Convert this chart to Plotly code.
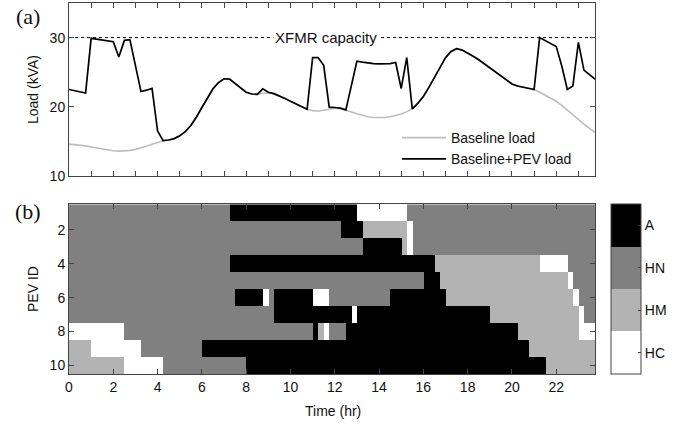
import numpy as np
import plotly.graph_objects as go

# ---------------- data ----------------
time_hr = np.arange(0, 24, 0.25)  # 15-min time grid, 0 .. 23.75 h

baseline_kva = [
    14.6, 14.55, 14.45, 14.35, 14.2, 14.05, 13.9, 13.75,
    13.65, 13.6, 13.6, 13.7, 13.85, 14.05, 14.3, 14.6,
    14.9, 15.1, 15.2, 15.4, 15.8, 16.4, 17.3, 18.5,
    19.9, 21.3, 22.6, 23.5, 24.05, 24.0, 23.4, 22.7,
    22.1, 21.85, 21.8, 21.95, 22.0, 21.9, 21.6, 21.2,
    20.8, 20.4, 20.0, 19.65, 19.45, 19.4, 19.5, 19.7,
    19.8, 19.75, 19.55, 19.25, 19.0, 18.75, 18.55, 18.45,
    18.4, 18.45, 18.55, 18.7, 18.95, 19.3, 19.7, 20.5,
    21.5, 22.8, 24.2, 25.8, 27.1, 28.0, 28.4, 28.2,
    27.8, 27.3, 26.8, 26.2, 25.7, 25.1, 24.5, 23.9,
    23.3, 23.0, 22.8, 22.65, 22.5, 22.1, 21.7, 21.3,
    20.8, 20.2, 19.5, 18.8, 18.1, 17.5, 16.9, 16.3,
]

pev_load_kva = [
    22.5, 22.35, 22.2, 22.0, 29.9, 29.8, 29.65, 29.5,
    29.4, 27.2, 29.6, 29.7, 26.0, 22.2, 22.4, 22.65,
    16.5, 15.1, 15.2, 15.4, 15.8, 16.4, 17.3, 18.5,
    19.9, 21.3, 22.6, 23.5, 24.05, 24.0, 23.4, 22.7,
    22.1, 21.85, 21.8, 22.6, 22.1, 21.9, 21.6, 21.2,
    20.8, 20.4, 20.0, 19.65, 27.1, 27.1, 26.0, 19.95,
    19.9, 19.8, 19.55, 22.9, 26.6, 26.45, 26.3, 26.25,
    26.2, 26.2, 26.25, 26.4, 22.65, 27.1, 19.7, 20.5,
    21.5, 22.8, 24.2, 25.8, 27.1, 28.0, 28.4, 28.2,
    27.8, 27.3, 26.8, 26.2, 25.7, 25.1, 24.5, 23.9,
    23.3, 23.0, 22.8, 22.65, 22.5, 30.0, 29.6, 29.2,
    28.7, 25.9, 22.5, 23.0, 29.3, 25.3, 24.6, 24.0,
]

xfmr_capacity_kva = 30

state_names = ["A", "HN", "HM", "HC"]
state_codes = {"HC": 1, "HM": 2, "HN": 3, "A": 4}

pev_ids = list(range(1, 11))
# per-PEV state changes: (start hour, state)
pev_states = [
    [(0, "HN"), (7.25, "A"), (13.0, "HC"), (15.25, "HN")],
    [(0, "HN"), (12.25, "A"), (13.25, "HM"), (15.25, "HC"), (15.5, "HN")],
    [(0, "HN"), (13.25, "A"), (15.0, "HM"), (15.25, "HC"), (15.5, "HN")],
    [(0, "HN"), (7.25, "A"), (16.5, "HM"), (21.25, "HC"), (22.5, "HN")],
    [(0, "HN"), (16.0, "A"), (16.75, "HM"), (22.5, "HC"), (22.75, "HN")],
    [(0, "HN"), (7.5, "A"), (8.75, "HC"), (9.0, "HN"), (9.25, "A"), (11.0, "HC"),
     (11.75, "HN"), (14.5, "A"), (17.0, "HM"), (22.75, "HC"), (23.0, "HN")],
    [(0, "HN"), (9.25, "A"), (12.75, "HC"), (13.0, "A"), (19.0, "HM"), (23.0, "HC"),
     (23.25, "HN")],
    [(0, "HC"), (2.5, "HN"), (11.0, "A"), (11.25, "HM"), (11.5, "HC"), (11.75, "HN"),
     (12.5, "A"), (20.25, "HM"), (23.0, "HC")],
    [(0, "HM"), (1.0, "HC"), (3.25, "HN"), (6.0, "A"), (20.75, "HM")],
    [(0, "HM"), (2.5, "HC"), (4.25, "HN"), (8.0, "A"), (21.5, "HM")],
]

x_ticks_b = list(range(0, 24, 2))
y_ticks_a = [10, 20, 30]
y_ticks_b = [2, 4, 6, 8, 10]

# ---------------- build state matrix ----------------
z = []
for segs in pev_states:
    row = []
    for t in time_hr:
        code = None
        for start, st in segs:
            if t >= start - 1e-9:
                code = state_codes[st]
        row.append(code)
    z.append(row)
cell_centers = time_hr + 0.125

# ---------------- figure ----------------
W, H = 686, 424
ml, mr, mt, mb = 69, 91, 3, 50
ph = H - mt - mb
pw = W - ml - mr

def py(p):  # pixel y -> paper
    return (H - mb - p) / ph

def px(p):  # pixel x -> paper
    return (p - ml) / pw

FONT = "Liberation Sans"
AX = "#444444"

fig = go.Figure()
fig.add_trace(go.Scatter(x=time_hr, y=baseline_kva, mode="lines", name="Baseline load",
                         line=dict(color="#bdbdbd", width=1.6), xaxis="x", yaxis="y"))
fig.add_trace(go.Scatter(x=time_hr, y=pev_load_kva, mode="lines", name="Baseline+PEV load",
                         line=dict(color="black", width=1.7), xaxis="x", yaxis="y"))

cs = [[0, "#ffffff"], [0.25, "#ffffff"], [0.25, "#b3b3b3"], [0.5, "#b3b3b3"],
      [0.5, "#808080"], [0.75, "#808080"], [0.75, "#000000"], [1, "#000000"]]
fig.add_trace(go.Heatmap(
    z=z, x=cell_centers, y=pev_ids, xaxis="x2", yaxis="y2",
    colorscale=cs, zmin=0.5, zmax=4.5, showscale=True, hoverinfo="skip",
    colorbar=dict(
        x=px(610.7), xanchor="left", y=0, yanchor="bottom",
        len=(374 - 204.3) / ph, lenmode="fraction",
        thickness=30, thicknessmode="pixels", xpad=0, ypad=0,
        outlinewidth=1, outlinecolor=AX,
        tickvals=[state_codes[s] for s in state_names], ticktext=state_names,
        ticks="inside", ticklen=3, tickcolor=AX,
        tickfont=dict(family=FONT, size=14, color="#111"),
    ),
))

common = dict(showgrid=False, zeroline=False, showline=True, linecolor=AX, linewidth=1,
              ticks="inside", ticklen=5, tickcolor=AX, mirror="ticks",
              tickfont=dict(family=FONT, size=14, color="#111"))

fig.update_layout(
    width=W, height=H,
    margin=dict(l=ml, r=mr, t=mt, b=mb),
    paper_bgcolor="white", plot_bgcolor="white",
    font=dict(family=FONT, size=14, color="#111"),
    xaxis=dict(domain=[0, 1], anchor="y", range=[0, 23.75], tick0=0, dtick=1,
               showticklabels=False, **common),
    yaxis=dict(domain=[py(176), 1], anchor="x", range=[10, 35], tickvals=y_ticks_a, **common),
    xaxis2=dict(domain=[0, 1], anchor="y2", range=[0, 23.75], tickvals=x_ticks_b, **common),
    yaxis2=dict(domain=[0, py(204.3)], anchor="x2", range=[10.5, 0.5], tickvals=y_ticks_b, **common),
    legend=dict(x=px(397), y=py(122), xanchor="left", yanchor="top",
                bgcolor="rgba(0,0,0,0)", itemwidth=44,
                font=dict(family=FONT, size=14, color="#111"), tracegroupgap=0),
    showlegend=True,
)

fig.add_shape(type="line", xref="x", yref="y", x0=0, x1=23.75,
              y0=xfmr_capacity_kva, y1=xfmr_capacity_kva,
              line=dict(color="black", width=1, dash="dot"), layer="below")

ann = [
    dict(text="XFMR capacity", x=11.62, y=xfmr_capacity_kva, xref="x", yref="y",
         bgcolor="white", borderpad=1, font=dict(size=15)),
    dict(text="(a)", x=px(28), y=py(17), xref="paper", yref="paper",
         font=dict(family="Liberation Serif", size=22, color="#111")),
    dict(text="(b)", x=px(28), y=py(212), xref="paper", yref="paper",
         font=dict(family="Liberation Serif", size=22, color="#111")),
    dict(text="Load (kVA)", x=px(33), y=py(90), xref="paper", yref="paper",
         textangle=-90, font=dict(size=14)),
    dict(text="PEV ID", x=px(33), y=py(289), xref="paper", yref="paper",
         textangle=-90, font=dict(size=14)),
    dict(text="Time (hr)", x=px(333), y=py(411), xref="paper", yref="paper",
         font=dict(size=14)),
]
for a in ann:
    a.setdefault("showarrow", False)
    a.setdefault("xanchor", "center")
    a.setdefault("yanchor", "middle")
    fig.add_annotation(**a)

fig.write_html("out.html", config={"displayModeBar": False},
               post_script="document.body.style.margin='0';document.body.style.padding='0';")
